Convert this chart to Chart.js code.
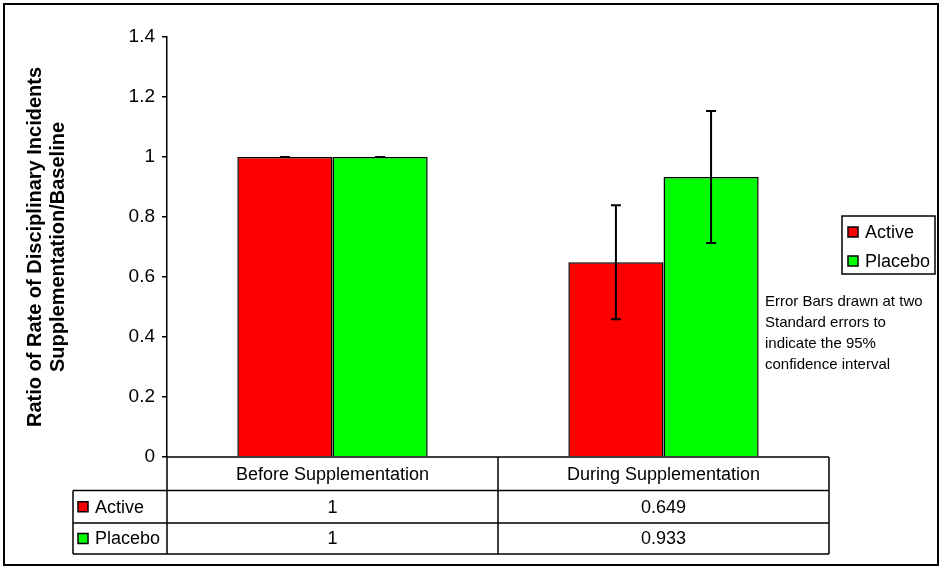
<!DOCTYPE html>
<html>
<head>
<meta charset="utf-8">
<script src="https://cdn.jsdelivr.net/npm/chart.js@4"></script>
<style>
  html, body { margin: 0; padding: 0; background: #fff; }
  #grafico { display: block; }
</style>
</head>
<body>
<canvas id="grafico" width="941" height="567"></canvas>
<script>
// dados
const categorias = ['Before Supplementation', 'During Supplementation'];
const series = ['Active', 'Placebo'];
const valoresActive = [1, 0.649];
const valoresPlacebo = [1, 0.933];
const erroActive = [0, 0.19];   // 2 erros padrao
const erroPlacebo = [0, 0.22];
const tituloY = ['Ratio of Rate of Disciplinary Incidents', 'Supplementation/Baseline'];
const notaTexto = ['Error Bars drawn at two', 'Standard errors to', 'indicate the 95%', 'confidence interval'];

const corActive = '#ff0000';
const corPlacebo = '#00ff00';
const FONTE = '"Liberation Sans", Arial, sans-serif';

// moldura e fundo
const moldura = {
  id: 'moldura',
  beforeDraw(chart) {
    const c = chart.ctx;
    c.save();
    c.fillStyle = '#fff';
    c.fillRect(0, 0, chart.width, chart.height);
    c.strokeStyle = '#000';
    c.lineWidth = 2;
    c.strokeRect(4, 4, 934, 561);
    c.restore();
  }
};

// barras de erro
const barrasErro = {
  id: 'barrasErro',
  afterDatasetsDraw(chart) {
    const c = chart.ctx;
    const y = chart.scales.y;
    const erros = [erroActive, erroPlacebo];
    c.save();
    c.strokeStyle = '#000';
    c.lineWidth = 2;
    chart.data.datasets.forEach((ds, i) => {
      chart.getDatasetMeta(i).data.forEach((bar, j) => {
        const v = ds.data[j], e = erros[i][j];
        const yt = y.getPixelForValue(v + e), yb = y.getPixelForValue(v - e);
        c.beginPath();
        c.moveTo(bar.x, yt); c.lineTo(bar.x, yb);
        c.moveTo(bar.x - 5, yt); c.lineTo(bar.x + 5, yt);
        c.moveTo(bar.x - 5, yb); c.lineTo(bar.x + 5, yb);
        c.stroke();
      });
    });
    c.restore();
  }
};

// tabela de dados embaixo
const tabela = {
  id: 'tabela',
  afterDraw(chart) {
    const c = chart.ctx;
    const xs = chart.scales.x;
    const area = chart.chartArea;
    const esq = 73, x0 = xs.left, x2 = xs.right;
    const x1 = (xs.getPixelForValue(0) + xs.getPixelForValue(1)) / 2;
    const linhas = [area.bottom, 490.5, 523, 554];
    c.save();
    c.strokeStyle = '#000';
    c.lineWidth = 1.5;
    c.beginPath();
    c.moveTo(x0, linhas[0]); c.lineTo(x2, linhas[0]);
    for (let k = 1; k < 4; k++) { c.moveTo(esq, linhas[k]); c.lineTo(x2, linhas[k]); }
    c.moveTo(esq, linhas[1]); c.lineTo(esq, linhas[3]);
    [x0, x1, x2].forEach(x => { c.moveTo(x, linhas[0]); c.lineTo(x, linhas[3]); });
    c.stroke();

    c.fillStyle = '#000';
    c.font = '18px ' + FONTE;
    c.textAlign = 'center';
    c.textBaseline = 'middle';
    const meio = k => (linhas[k] + linhas[k + 1]) / 2 + 1;
    categorias.forEach((cat, j) => c.fillText(cat, xs.getPixelForValue(j), meio(0)));
    [valoresActive, valoresPlacebo].forEach((vals, i) => {
      vals.forEach((v, j) => c.fillText(String(v), xs.getPixelForValue(j), meio(i + 1)));
    });
    c.textAlign = 'left';
    [corActive, corPlacebo].forEach((cor, i) => {
      const ym = meio(i + 1);
      c.fillStyle = cor;
      c.fillRect(78, ym - 6, 10, 10);
      c.strokeRect(78, ym - 6, 10, 10);
      c.fillStyle = '#000';
      c.fillText(series[i], 95, ym);
    });
    c.restore();
  }
};

// legenda e nota do lado direito
const legendaNota = {
  id: 'legendaNota',
  afterDraw(chart) {
    const c = chart.ctx;
    c.save();
    c.strokeStyle = '#000';
    c.lineWidth = 1.5;
    c.strokeRect(842, 216, 93, 58);
    c.font = '18px ' + FONTE;
    c.textBaseline = 'middle';
    [corActive, corPlacebo].forEach((cor, i) => {
      const ym = 232 + i * 29;
      c.fillStyle = cor;
      c.fillRect(848, ym - 5, 10, 10);
      c.strokeRect(848, ym - 5, 10, 10);
      c.fillStyle = '#000';
      c.fillText(series[i], 865, ym + 1);
    });
    c.font = '15px ' + FONTE;
    notaTexto.forEach((t, i) => c.fillText(t, 765, 302 + i * 21));
    c.restore();
  }
};

new Chart(document.getElementById('grafico'), {
  type: 'bar',
  data: {
    labels: categorias,
    datasets: [
      { label: series[0], data: valoresActive, backgroundColor: corActive, borderColor: '#000', borderWidth: 1.5 },
      { label: series[1], data: valoresPlacebo, backgroundColor: corPlacebo, borderColor: '#000', borderWidth: 1.5 }
    ]
  },
  options: {
    responsive: false,
    animation: false,
    barPercentage: 1,
    categoryPercentage: 0.575,
    layout: { padding: { left: 0, top: 37, right: 112, bottom: 110 } },
    plugins: { legend: { display: false }, tooltip: { enabled: false } },
    scales: {
      x: { display: false },
      y: {
        min: 0, max: 1.4,
        afterFit(scale) { scale.width = 167; },
        ticks: {
          stepSize: 0.2, color: '#000', padding: 7,
          font: { family: FONTE, size: 19 },
          callback: v => String(+v.toFixed(1))
        },
        grid: { drawOnChartArea: false, color: '#000', lineWidth: 1.5, tickLength: 5 },
        border: { color: '#000', width: 1.5 },
        title: {
          display: true, text: tituloY, color: '#000',
          font: { family: FONTE, size: 20, weight: 'bold', lineHeight: 1.15 },
          padding: { top: 23.5, bottom: 0 }
        }
      }
    }
  },
  plugins: [moldura, barrasErro, tabela, legendaNota]
});
</script>
</body>
</html>
